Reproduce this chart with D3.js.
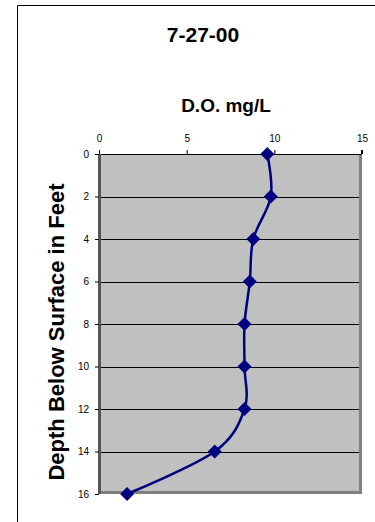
<!DOCTYPE html>
<html>
<head>
<meta charset="utf-8">
<script src="https://cdn.jsdelivr.net/npm/d3@7"></script>
<style>
  html, body { margin: 0; padding: 0; background: #fff; }
  svg { display: block; font-family: "Liberation Sans", Arial, sans-serif; }
</style>
</head>
<body>
<svg width="375" height="522"></svg>
<script>
var title = "7-27-00";
var xTitle = "D.O. mg/L";
var yTitle = "Depth Below Surface in Feet";

var depths = [0, 2, 4, 6, 8, 10, 12, 14, 16];
var oxygen = [9.6, 9.8, 8.8, 8.6, 8.3, 8.3, 8.3, 6.6, 1.6];
var xTicks = [0, 5, 10, 15];
var yTicks = [0, 2, 4, 6, 8, 10, 12, 14, 16];

var data = depths.map(function(d, i) { return {depth: d, value: oxygen[i]}; });

var svg = d3.select("svg"),
    margin = {top: 154, right: 13, bottom: 28, left: 99},
    width = 375 - margin.left - margin.right,
    height = 522 - margin.top - margin.bottom;

// outer chart border (top and left, running off the frame)
svg.append("path")
    .attr("d", "M17.5,522 L17.5,5.5 L375,5.5")
    .attr("fill", "none")
    .attr("stroke", "#000")
    .attr("stroke-width", 1);

svg.append("text")
    .attr("x", 203)
    .attr("y", 42)
    .attr("text-anchor", "middle")
    .style("font-weight", "bold")
    .style("font-size", "21px")
    .text(title);

svg.append("text")
    .attr("x", 226)
    .attr("y", 112)
    .attr("text-anchor", "middle")
    .style("font-weight", "bold")
    .style("font-size", "19px")
    .text(xTitle);

svg.append("text")
    .attr("transform", "translate(64,332) rotate(-90)")
    .attr("text-anchor", "middle")
    .style("font-weight", "bold")
    .style("font-size", "22px")
    .text(yTitle);

var g = svg.append("g").attr("transform", "translate(" + margin.left + "," + margin.top + ")");

var x = d3.scaleLinear()
    .domain([0, 15])
    .range([0, width]);

var y = d3.scaleLinear()
    .domain([0, 16])
    .range([0, height]);

g.append("rect")
    .attr("width", width)
    .attr("height", height)
    .attr("fill", "#c0c0c0");

// gridlines
g.append("g")
    .selectAll("line")
    .data(yTicks.slice(1, -1))
    .enter().append("line")
      .attr("x1", 0)
      .attr("x2", width)
      .attr("y1", function(d) { return Math.round(y(d)) + 0.5; })
      .attr("y2", function(d) { return Math.round(y(d)) + 0.5; })
      .attr("stroke", "#000")
      .attr("stroke-width", 1);

// plot area shadow border right and bottom
g.append("path")
    .attr("d", "M" + (width - 1.5) + ",0 L" + (width - 1.5) + "," + (height - 1.5) + " L0," + (height - 1.5))
    .attr("fill", "none")
    .attr("stroke", "#808080")
    .attr("stroke-width", 3);

var xAxis = g.append("g")
    .call(d3.axisTop(x).tickValues(xTicks).tickSize(4).tickPadding(8));
xAxis.select(".domain").attr("stroke", "#000").attr("d", "M0.5,-4V0.5H" + (width - 0.5) + "V-4");
xAxis.selectAll("text").style("font-size", "10px").style("font-family", "Liberation Sans, Arial, sans-serif").attr("fill", "#000");

var yAxis = g.append("g")
    .call(d3.axisLeft(y).tickValues(yTicks).tickSize(4).tickPadding(6));
yAxis.select(".domain").attr("stroke", "#555").attr("stroke-width", 3).attr("d", "M0.5,0V" + height);
yAxis.selectAll("text").style("font-size", "10px").style("font-family", "Liberation Sans, Arial, sans-serif").attr("fill", "#000");

var line = d3.line()
    .curve(d3.curveCatmullRom.alpha(0))
    .x(function(d) { return x(d.value); })
    .y(function(d) { return y(d.depth); });

g.append("path")
    .datum(data)
    .attr("fill", "none")
    .attr("stroke", "#000080")
    .attr("stroke-width", 2.5)
    .attr("stroke-linejoin", "round")
    .attr("d", line);

var diamond = d3.symbol().type(d3.symbolSquare).size(98);
g.append("g")
    .selectAll("path")
    .data(data)
    .enter().append("path")
      .attr("d", diamond)
      .attr("transform", function(d) { return "translate(" + x(d.value) + "," + y(d.depth) + ") rotate(45)"; })
      .attr("fill", "#000080");
</script>
</body>
</html>
